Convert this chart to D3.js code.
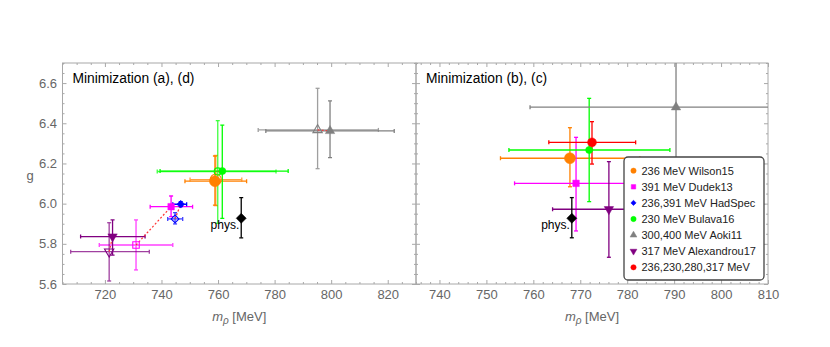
<!DOCTYPE html>
<html>
<head>
<meta charset="utf-8">
<script src="https://cdn.jsdelivr.net/npm/d3@7"></script>
<style>
  body { margin: 0; background: #fff; }
  svg { font-family: "Liberation Sans", Arial, sans-serif; }
</style>
</head>
<body>
<script>
// row layout: [series, m, mLow, mHigh, g, gLow, gHigh]
const leftOpen = [
    ['Wilson15', 759.2, 750.1, 768.4, 6.120, 5.990, 6.240],
    ['Dudek13', 731.0, 718.0, 744.0, 5.794, 5.670, 5.919],
    ['HadSpec', 744.8, 742.2, 747.5, 5.924, 5.899, 5.955],
    ['Bulava16', 759.9, 738.5, 780.5, 6.160, 5.902, 6.413],
    ['Aoki11', 795.2, 774.2, 816.7, 6.367, 6.174, 6.574],
    ['Alexandrou17', 721.5, 707.9, 735.7, 5.761, 5.615, 5.905]
];
const leftFilled = [
    ['Wilson15', 758.9, 748.3, 770.1, 6.112, 5.993, 6.237],
    ['Dudek13', 743.4, 736.0, 751.0, 5.985, 5.935, 6.038],
    ['HadSpec', 746.8, 744.0, 748.9, 5.997, 5.985, 6.010],
    ['Bulava16', 761.5, 739.5, 784.8, 6.162, 5.927, 6.391],
    ['Aoki11', 799.6, 776.9, 822.3, 6.362, 6.229, 6.511],
    ['Alexandrou17', 722.7, 711.4, 734.2, 5.836, 5.744, 5.919]
];
const rightFilled = [
    ['Wilson15', 767.8, 753.0, 782.7, 6.226, 6.084, 6.378],
    ['Dudek13', 769.1, 756.0, 782.2, 6.101, 5.864, 6.330],
    ['Bulava16', 771.9, 754.8, 789.1, 6.267, 6.010, 6.524],
    ['Aoki11', 790.4, 759.3, 821.5, 6.480, 6.180, 6.780],
    ['Alexandrou17', 776.1, 764.1, 788.1, 5.972, 5.733, 6.209],
    ['Combined', 772.5, 763.3, 781.8, 6.305, 6.197, 6.408]
];
// physical point: m, g, gLow, gHigh
const phys = [768.2, 5.927, 5.830, 6.030];

const legendKeys = ['Wilson15', 'Dudek13', 'HadSpec', 'Bulava16', 'Aoki11', 'Alexandrou17', 'Combined'];
const legendLabels = ['236 MeV Wilson15', '391 MeV Dudek13', '236,391 MeV HadSpec', '230 MeV Bulava16',
    '300,400 MeV Aoki11', '317 MeV Alexandrou17', '236,230,280,317 MeV'];

const leftXTicks = [720, 740, 760, 780, 800, 820];
const rightXTicks = [740, 750, 760, 770, 780, 790, 800, 810];
const yTicks = [5.6, 5.8, 6.0, 6.2, 6.4, 6.6];

const colors = {
    Wilson15: '#ff8000', Dudek13: '#ff00ff', HadSpec: '#0000ff', Bulava16: '#00ff00',
    Aoki11: '#808080', Alexandrou17: '#800080', Combined: '#ff0000', phys: '#000000'
};
const shapes = {
    Wilson15: ['circle', 95], Dudek13: ['square', 42], HadSpec: ['diamond', 30], Bulava16: ['circle', 40],
    Aoki11: ['up', 38], Alexandrou17: ['down', 38], Combined: ['circle', 62], phys: ['diamond', 50]
};

const svg = d3.select('body').append('svg').attr('width', 830).attr('height', 347);

const y = d3.scaleLinear().domain([5.6, 6.7]).range([284, 63]);
const frameColor = '#a8a8a8';
const labelColor = '#666';

function symbolPath(key, size) {
    const [shape, area] = shapes[key];
    const s = size || area;
    if (shape === 'circle') return d3.symbol(d3.symbolCircle, s)();
    if (shape === 'square' || shape === 'diamond') return d3.symbol(d3.symbolSquare, s)();
    return d3.symbol(d3.symbolTriangle, s)();
}
function symbolRotate(key) {
    const shape = shapes[key][0];
    if (shape === 'diamond') return 45;
    if (shape === 'down') return 180;
    return 0;
}

function drawMarker(g, key, cx, cy, open, size) {
    g.append('path')
        .attr('d', symbolPath(key, size))
        .attr('transform', `translate(${cx},${cy}) rotate(${symbolRotate(key)})`)
        .attr('fill', open ? 'none' : colors[key])
        .attr('stroke', colors[key])
        .attr('stroke-width', open ? 1.1 : 0.5);
}

function errorBars(g, x, row, opacity) {
    const [key, m, mLo, mHi, gv, gLo, gHi] = row;
    const c = colors[key];
    const bars = g.append('g').attr('stroke', c).attr('stroke-width', 1.3).attr('opacity', opacity);
    const cap = 2;
    if (mLo !== null) {
        bars.append('line').attr('x1', x(mLo)).attr('x2', x(mHi)).attr('y1', y(gv)).attr('y2', y(gv));
        [mLo, mHi].forEach(v => bars.append('line')
            .attr('x1', x(v)).attr('x2', x(v)).attr('y1', y(gv) - cap).attr('y2', y(gv) + cap));
    }
    bars.append('line').attr('x1', x(m)).attr('x2', x(m)).attr('y1', y(gLo)).attr('y2', y(gHi));
    [gLo, gHi].forEach(v => bars.append('line')
        .attr('x1', x(m) - cap).attr('x2', x(m) + cap).attr('y1', y(v)).attr('y2', y(v)));
}

function drawPanel(id, domain, range, majorX, minorStep, title) {
    const x = d3.scaleLinear().domain(domain).range(range);
    const [x0, x1] = range;
    const minorX = d3.range(Math.ceil(domain[0] / minorStep) * minorStep, domain[1] + 0.001, minorStep)
        .filter(v => !majorX.some(t => Math.abs(t - v) < 1e-6));
    const majorY = d3.range(5.6, 6.71, 0.2);
    const minorY = d3.range(5.6, 6.71, 0.05).filter(v => !majorY.some(t => Math.abs(t - v) < 1e-6));

    const clipId = `${id}-clip`;
    svg.append('defs').append('clipPath').attr('id', clipId)
        .append('rect').attr('x', x0).attr('y', 63).attr('width', x1 - x0).attr('height', 221);

    const axes = svg.append('g').attr('class', 'axes');
    const addAxis = (axisFn, scale, vals, size, tx, ty, labels) => {
        const a = axisFn(scale).tickValues(vals).tickSize(size).tickPadding(5.5);
        if (!labels) a.tickFormat(() => '');
        else a.tickFormat(labels);
        const ag = axes.append('g').attr('transform', `translate(${tx},${ty})`).call(a);
        ag.select('.domain').remove();
        ag.selectAll('line').attr('stroke', frameColor);
        ag.selectAll('text').attr('fill', labelColor).style('font-size', '13px')
            .style('font-family', '"Liberation Sans", Arial, sans-serif');
    };
    addAxis(d3.axisBottom, x, majorX, -4, 0, 284, d3.format('d'));
    addAxis(d3.axisBottom, x, minorX, -2, 0, 284, null);
    addAxis(d3.axisTop, x, majorX, -4, 0, 63, null);
    addAxis(d3.axisTop, x, minorX, -2, 0, 63, null);
    addAxis(d3.axisLeft, y, majorY, -4, x0, 0, id === 'left' ? d3.format('.1f') : null);
    addAxis(d3.axisLeft, y, minorY, -2, x0, 0, null);
    addAxis(d3.axisRight, y, majorY, -4, x1, 0, null);
    addAxis(d3.axisRight, y, minorY, -2, x1, 0, null);

    svg.append('rect').attr('x', x0).attr('y', 63).attr('width', x1 - x0).attr('height', 221)
        .attr('fill', 'none').attr('stroke', frameColor).attr('stroke-width', 1);

    svg.append('text').attr('x', x0 + 10).attr('y', 83).attr('fill', '#000')
        .style('font-size', '13.8px').text(title);

    const axisTitle = svg.append('text').attr('x', (x0 + x1) / 2).attr('y', 321)
        .attr('text-anchor', 'middle').attr('fill', labelColor).style('font-size', '13px');
    axisTitle.append('tspan').style('font-style', 'italic').text('m');
    axisTitle.append('tspan').attr('dy', 3).style('font-size', '10px').style('font-style', 'italic').text('ρ');
    axisTitle.append('tspan').attr('dy', -3).text(' [MeV]');

    const plot = svg.append('g').attr('clip-path', `url(#${clipId})`);
    return { x, plot };
}

// left panel: minimization (a) open, (d) filled
const L = drawPanel('left', [705, 830], [62.5, 416], leftXTicks, 5, 'Minimization (a), (d)');
leftOpen.forEach(r => errorBars(L.plot, L.x, r, 0.75));
leftFilled.forEach(r => errorBars(L.plot, L.x, r, 1));
leftOpen.forEach((r, i) => {
    const f = leftFilled[i];
    L.plot.append('line')
        .attr('x1', L.x(r[1])).attr('y1', y(r[4])).attr('x2', L.x(f[1])).attr('y2', y(f[4]))
        .attr('stroke', '#ff3333').attr('stroke-width', 1.2).attr('stroke-dasharray', '2,2');
});
leftOpen.forEach(r => drawMarker(L.plot, r[0], L.x(r[1]), y(r[4]), true));
leftFilled.forEach(r => drawMarker(L.plot, r[0], L.x(r[1]), y(r[4]), false));

// right panel: minimization (b), (c)
const R = drawPanel('right', [735, 810], [416, 768], rightXTicks, 2, 'Minimization (b), (c)');
rightFilled.forEach(r => errorBars(R.plot, R.x, r, 1));
rightFilled.forEach(r => drawMarker(R.plot, r[0], R.x(r[1]), y(r[4]), false));

// physical point in both panels
[L, R].forEach(P => {
    errorBars(P.plot, P.x, ['phys', phys[0], null, null, phys[1], phys[2], phys[3]], 1);
    drawMarker(P.plot, 'phys', P.x(phys[0]), y(phys[1]), false);
    P.plot.append('text').attr('x', P.x(phys[0]) - 2).attr('y', y(phys[1]) + 11)
        .attr('text-anchor', 'end').attr('fill', '#000').style('font-size', '12px').text('phys.');
});

// y axis label
svg.append('text').attr('x', 30).attr('y', 180).attr('text-anchor', 'middle')
    .attr('fill', labelColor).style('font-size', '13px').text('g');

// legend
const lg = svg.append('g').attr('transform', 'translate(624,157)');
lg.append('rect').attr('width', 140).attr('height', 123).attr('rx', 4)
    .attr('fill', '#fff').attr('stroke', '#444').attr('stroke-width', 1.3);
legendKeys.forEach((k, i) => {
    const ry = 13.7 + i * 16.1;
    drawMarker(lg, k, 9.5, ry, false, shapes[k][0] === 'circle' ? 22 : (shapes[k][0] === 'diamond' ? 14 : 20));
    lg.append('text').attr('x', 17.5).attr('y', ry + 4).attr('fill', '#222')
        .style('font-size', '11px').text(legendLabels[i]);
});
</script>
</body>
</html>
